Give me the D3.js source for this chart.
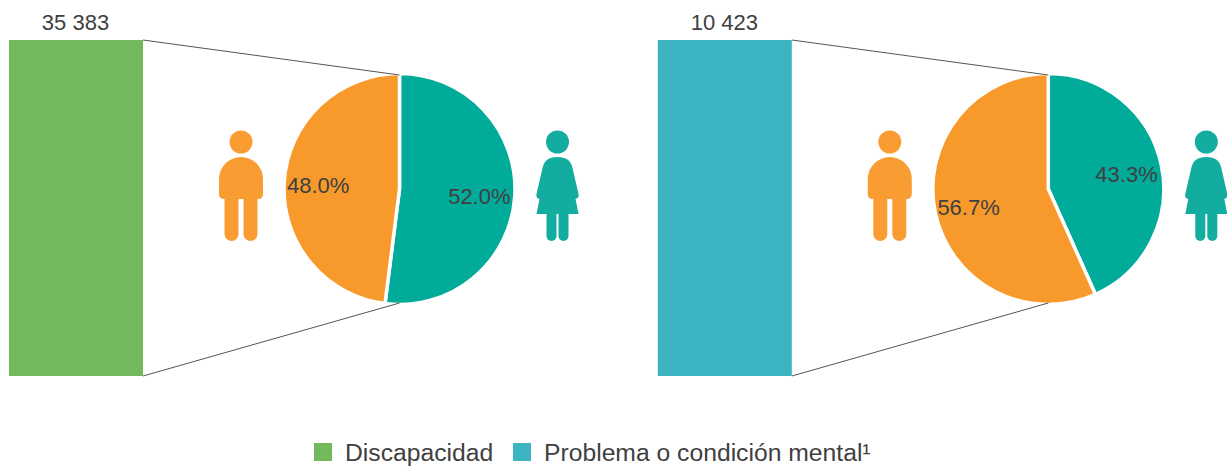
<!DOCTYPE html>
<html>
<head>
<meta charset="utf-8">
<script src="https://cdn.jsdelivr.net/npm/d3@7"></script>
<style>
  html, body { margin: 0; padding: 0; background: #fff; }
  text { font-family: "Liberation Sans", Arial, sans-serif; fill: #404040; }
</style>
</head>
<body>
<div id="chart"></div>
<script>
var categories = ["Discapacidad", "Problema o condición mental¹"];
var totals = [35383, 10423];
var totalLabels = ["35 383", "10 423"];
var hombres = [48.0, 56.7];
var mujeres = [52.0, 43.3];
var barColors = ["#72b85c", "#3cb4c1"];

var width = 1227, height = 468;
var radius = 114;
var barWidth = 134;
var pieOffset = 390.5;   // from bar left edge to pie centre
var pieY = 189;

var svg = d3.select("#chart").append("svg")
    .attr("width", width)
    .attr("height", height)
    .style("display", "block");

var x = d3.scaleLinear().domain([0, 1]).range([9, 657.8]);

var pie = d3.pie().sort(null).value(d => d.value);
var arc = d3.arc().innerRadius(0).outerRadius(radius + 1.5);
var labelArc = d3.arc().innerRadius(80).outerRadius(80);

var sexColors = { mujeres: "#00ab9a", hombres: "#f79a2b" };

categories.forEach(function(cat, i) {
    var g = svg.append("g").attr("transform", "translate(" + x(i) + ",0)");
    var y = d3.scaleLinear().domain([0, totals[i]]).range([376, 40]);

    g.append("rect")
        .attr("x", 0)
        .attr("y", y(totals[i]))
        .attr("width", barWidth)
        .attr("height", y(0) - y(totals[i]))
        .attr("fill", barColors[i]);

    g.append("text")
        .attr("x", barWidth / 2 - 0.5)
        .attr("y", 30)
        .attr("text-anchor", "middle")
        .attr("font-size", 22)
        .text(totalLabels[i]);

    var slices = pie([
        { key: "mujeres", value: mujeres[i] },
        { key: "hombres", value: hombres[i] }
    ]);

    var pg = g.append("g").attr("transform", "translate(" + pieOffset + "," + pieY + ")");

    pg.selectAll("path")
        .data(slices)
        .enter().append("path")
        .attr("d", arc)
        .attr("fill", d => sexColors[d.data.key])
        .attr("stroke", "#fff")
        .attr("stroke-width", 3.5)
        .attr("stroke-linejoin", "miter");

    pg.selectAll("text")
        .data(slices)
        .enter().append("text")
        .attr("x", d => labelArc.centroid(d)[0] - (d.data.key === "hombres" ? 1.5 : 0))
        .attr("y", d => labelArc.centroid(d)[1] + 9.5)
        .attr("text-anchor", "middle")
        .attr("font-size", 22)
        .text(d => d.data.value.toFixed(1) + "%");

    // connectors from bar corners to the top and bottom of the pie
    [[y(totals[i]), pieY - radius], [y(0), pieY + radius]].forEach(function(p) {
        g.append("line")
            .attr("x1", barWidth)
            .attr("y1", p[0])
            .attr("x2", pieOffset)
            .attr("y2", p[1])
            .attr("stroke", "#555")
            .attr("stroke-width", 1);
    });

    drawMan(g.append("g").attr("transform", "translate(232,0)"));
    drawWoman(g.append("g").attr("transform", "translate(548.5,0)"));
});

// icons are centred on x = 0
function drawMan(g) {
    g.attr("fill", "#f99d33");
    g.append("circle").attr("cx", 0).attr("cy", 142).attr("r", 11.5);
    g.append("path").attr("d",
        "M-22,179 A22,22 0 0 1 22,179 L22,194 Q22,199 17,199 L-17,199 Q-22,199 -22,194 Z");
    g.append("path").attr("d", "M-16.5,197 L-2.5,197 L-2.5,234 A7,7 0 0 1 -16.5,234 Z");
    g.append("path").attr("d", "M2.5,197 L16.5,197 L16.5,234 A7,7 0 0 1 2.5,234 Z");
}

function drawWoman(g) {
    g.attr("fill", "#12ad9f");
    g.append("circle").attr("cx", 0).attr("cy", 142).attr("r", 11.5);
    g.append("path").attr("d",
        "M-15,168 Q-13,157 0,157 Q13,157 15,168 L21,194 Q22,198 18,199 L21,214 L-21,214 L-18,199 Q-22,198 -21,194 Z");
    g.append("path").attr("d", "M-11,212 L-1,212 L-1,236 A5,5 0 0 1 -11,236 Z");
    g.append("path").attr("d", "M1,212 L11,212 L11,236 A5,5 0 0 1 1,236 Z");
}

// legend
var legendX = [314, 513];
categories.forEach(function(cat, i) {
    svg.append("rect")
        .attr("x", legendX[i])
        .attr("y", 443)
        .attr("width", 18)
        .attr("height", 18)
        .attr("fill", barColors[i]);
    svg.append("text")
        .attr("x", legendX[i] + 31)
        .attr("y", 461)
        .attr("font-size", 24.7)
        .text(cat);
});
</script>
</body>
</html>
